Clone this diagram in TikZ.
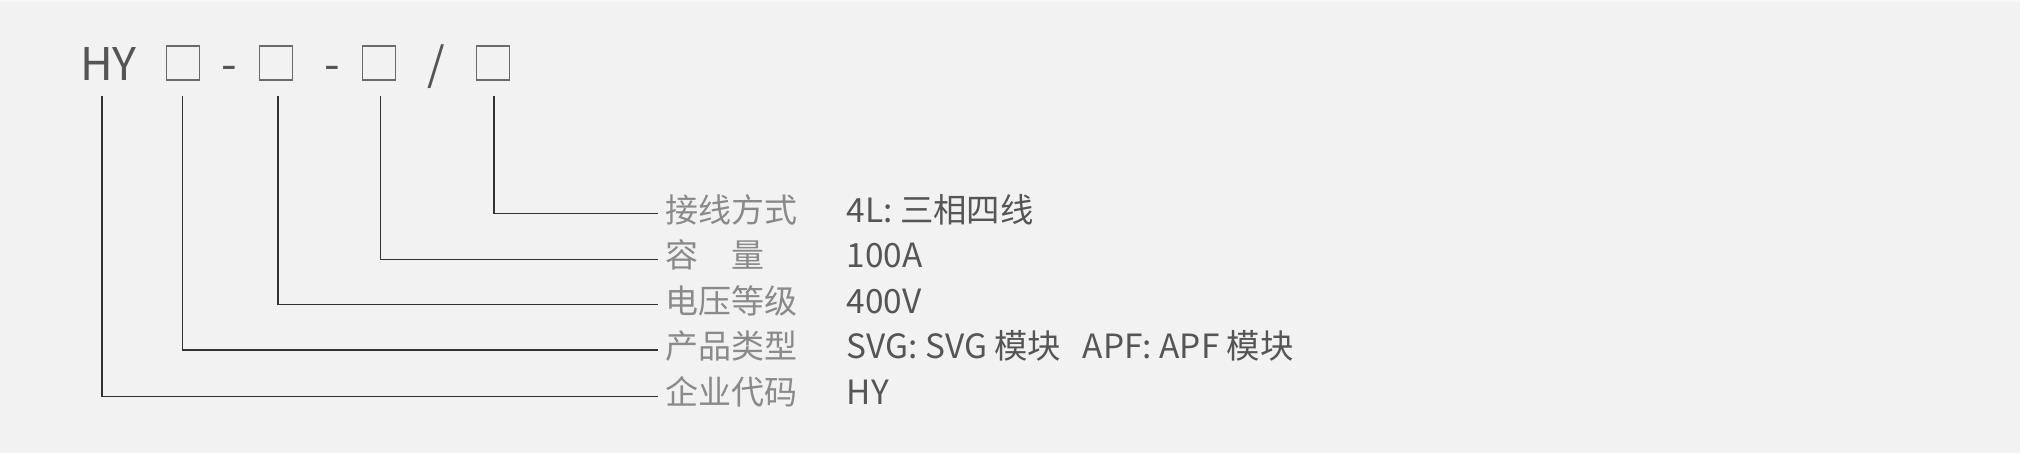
\documentclass[tikz,border=0pt]{standalone}
\usepackage{fontspec}
\newfontfamily\cjk{Noto Sans CJK SC}
\definecolor{bg}{HTML}{F2F2F2}
\definecolor{edge}{HTML}{F8F8F8}
\definecolor{codegray}{HTML}{555555}
\definecolor{boxgray}{HTML}{6A6A6A}
\definecolor{labgray}{HTML}{8A8A8A}
\definecolor{valgray}{HTML}{555555}
\definecolor{linegray}{HTML}{333333}
\tikzset{
  codetext/.style={inner sep=0pt, anchor=base west, text=codegray, font=\cjk\fontsize{45}{54}\selectfont},
  sep/.style={inner sep=0pt, anchor=base, text=codegray, font=\cjk\fontsize{45}{54}\selectfont},
  slot/.style={draw=boxgray, line width=1.2pt, minimum width=33pt, minimum height=34pt, inner sep=0pt},
  lab/.style={inner sep=0pt, anchor=base west, text=labgray, font=\cjk\fontsize{33}{40}\selectfont},
  val/.style={inner sep=0pt, anchor=base west, text=valgray, font=\cjk\fontsize{33.4}{40}\selectfont},
  conn/.style={draw=linegray, line width=1.3pt},
}
\begin{document}
\begin{tikzpicture}[x=1pt,y=-1pt]
\useasboundingbox (0,0) rectangle (2020,453);
\fill[bg] (0,0) rectangle (2020,453);
\draw[edge, line width=1.5pt] (0,0.75) -- (2020,0.75);
% code line
\node[codetext] (hy) at (80,80) {HY};
\node[slot] (b1) at (182.7,63) {};
\node[sep] (d1) at (229,80) {-};
\node[slot] (b2) at (275.8,63) {};
\node[sep] (d2) at (332,80) {-};
\node[slot] (b3) at (378.8,63) {};
\node[sep] (sl) at (436.5,80) {/};
\node[slot] (b4) at (492.7,63) {};
% labels
\node[lab] (l1) at (665,222) {接线方式};
\node[lab] (l2) at (665,267.5) {容\hspace{1em}量};
\node[lab] (l3) at (665,313) {电压等级};
\node[lab] (l4) at (665,358.5) {产品类型};
\node[lab] (l5) at (665,404.5) {企业代码};
% values
\node[val] (v1) at (846.5,222) {4L: 三相四线};
\node[val] (v2) at (846.5,267.5) {100A};
\node[val] (v3) at (846.5,313) {400V};
\node[val] (v4) at (846.5,358.5) {SVG: SVG 模块\hspace{0.65em}APF: APF 模块};
\node[val] (v5) at (846.5,404.5) {HY};
% line tops
\coordinate (t0) at (102,96);
\coordinate (t1) at (182.7,96);
\coordinate (t2) at (278,96);
\coordinate (t3) at (380.7,96);
\coordinate (t4) at (494,96);
% connectors
\draw[conn] (t4) |- ([shift={(-7pt,8.5pt)}]l1.base west);
\draw[conn] (t3) |- ([shift={(-7pt,8pt)}]l2.base west);
\draw[conn] (t2) |- ([shift={(-7pt,8.5pt)}]l3.base west);
\draw[conn] (t1) |- ([shift={(-7pt,8.5pt)}]l4.base west);
\draw[conn] (t0) |- ([shift={(-7pt,8pt)}]l5.base west);
\end{tikzpicture}
\end{document}
